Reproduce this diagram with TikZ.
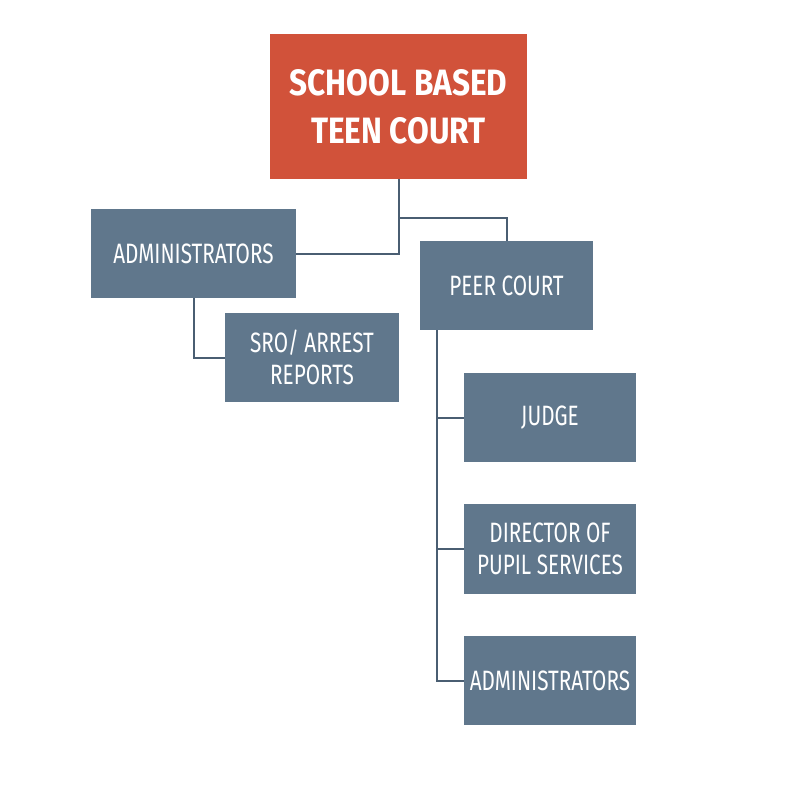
\documentclass[tikz,border=0pt]{standalone}
\usepackage{fontspec}
\setmainfont{Fira Sans}[FakeStretch=0.74]
\newfontfamily\headfont{Fira Sans}[FakeStretch=0.86]
\usepackage{tikz}
\usetikzlibrary{positioning}

\definecolor{courtred}{RGB}{209,82,58}
\definecolor{slatebox}{RGB}{96,119,140}
\definecolor{slateline}{RGB}{74,94,114}

\begin{document}
\begin{tikzpicture}[
    x=0.75pt, y=-0.75pt,
    box/.style={fill=slatebox, text=white, align=center, inner sep=0pt,
        font=\fontsize{21}{24}\selectfont},
    link/.style={draw=slateline, line width=1.5pt}
]
\useasboundingbox[fill=white] (0,0) rectangle (797,800);

% Top
\node[fill=courtred, text=white, align=center, minimum width=257*0.75pt, minimum height=145*0.75pt,
    font=\headfont\fontsize{27.5}{36}\selectfont\bfseries] (top) at (398.5,106.5) {SCHOOL BASED\\TEEN COURT};

% Second level
\node[box, minimum width=205*0.75pt, minimum height=89*0.75pt] (adminL) at (193.5,253.5) {ADMINISTRATORS};
\node[box, minimum width=173*0.75pt, minimum height=89*0.75pt] (peer) at (506.5,285.5) {PEER COURT};
\node[box, minimum width=174*0.75pt, minimum height=89*0.75pt] (sro) at (312,357.5) {SRO/ ARREST\\REPORTS};

% Peer court members
\node[box, minimum width=172*0.75pt, minimum height=89*0.75pt] (judge) at (550,417.5) {JUDGE};
\node[box, minimum width=172*0.75pt, minimum height=90*0.75pt] (director) at (550,549) {DIRECTOR OF\\PUPIL SERVICES};
\node[box, minimum width=172*0.75pt, minimum height=89*0.75pt] (adminR) at (550,680.5) {ADMINISTRATORS};

% Connectors
\coordinate (split) at (398.5,218);
\coordinate (trunk) at (437,330);
\draw[link] (top.south) |- (adminL.east);
\draw[link] (split) -| (peer.north);
\draw[link] (adminL.south) |- (sro.west);
\draw[link] (trunk) |- (adminR.west);
\draw[link] (trunk |- judge.west) -- (judge.west);
\draw[link] (trunk |- director.west) -- (director.west);

\end{tikzpicture}
\end{document}
